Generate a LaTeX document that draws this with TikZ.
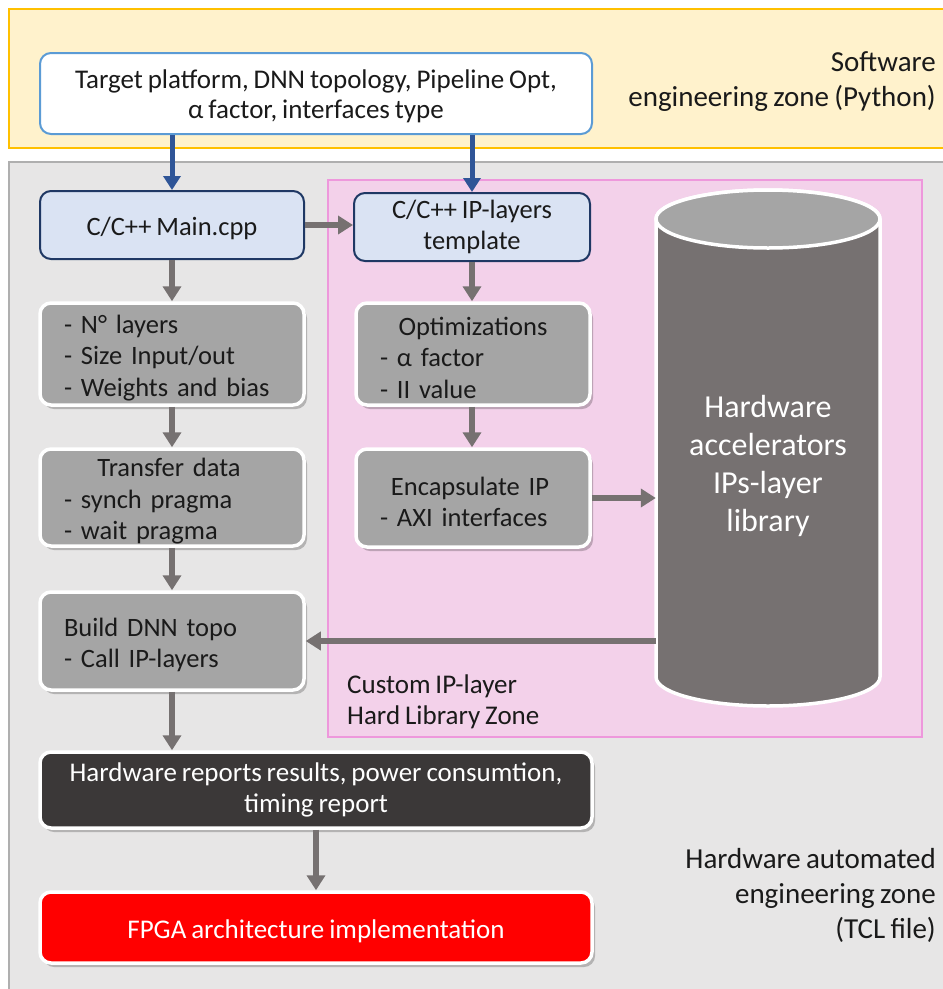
\documentclass[tikz,border=0pt]{standalone}
\usepackage{fontspec}
\setmainfont[WordSpace=0.8]{Carlito}
\usetikzlibrary{shadows,arrows.meta}
\definecolor{swfill}{HTML}{FFF2CC}
\definecolor{swline}{HTML}{FFC000}
\definecolor{hwfill}{HTML}{E7E6E6}
\definecolor{hwline}{HTML}{AFAFAF}
\definecolor{pkfill}{HTML}{F3D1EA}
\definecolor{pkline}{HTML}{EE98DC}
\definecolor{topline}{HTML}{5B9BD5}
\definecolor{cfill}{HTML}{DAE3F3}
\definecolor{cline}{HTML}{1F3864}
\definecolor{gbox}{HTML}{A5A5A5}
\definecolor{darkbox}{HTML}{3B3838}
\definecolor{arrgrey}{HTML}{767171}
\definecolor{arrblue}{HTML}{2F5597}
\definecolor{txt}{HTML}{1A1A1A}
\begin{document}
\begin{tikzpicture}[x=1pt,y=-1pt,
  basebox/.style={rounded corners=11pt, inner sep=0pt, font=\fontsize{26.5}{31.5}\selectfont, text=txt,
     execute at begin node=\rule{0pt}{26pt}},
  topbox/.style={basebox, draw=topline, fill=white, line width=2pt, align=center},
  cbox/.style={basebox, draw=cline, fill=cfill, line width=2pt, align=center},
  gbox/.style={basebox, draw=white, fill=gbox, line width=3.5pt,
     drop shadow={shadow xshift=3pt, shadow yshift=-4pt, opacity=0.22, fill=black}},
  dbox/.style={basebox, draw=white, fill=darkbox, text=white, line width=3.5pt, align=center,
     font=\fontsize{27}{31}\selectfont,
     drop shadow={shadow xshift=3pt, shadow yshift=-4pt, opacity=0.22, fill=black}},
  rbox/.style={dbox, fill=red},
  garr/.style={draw=arrgrey, line width=6pt, -{Triangle[length=15pt,width=18pt]}},
  barr/.style={draw=arrblue, line width=5pt, -{Triangle[length=14pt,width=17pt]}},
  zonelbl/.style={font=\fontsize{29}{35}\selectfont, text=txt, align=right, inner sep=0pt},
]
\useasboundingbox (0,0) rectangle (943,989);
\fill[white] (0,0) rectangle (943,989);
% zones
\draw[fill=swfill, draw=swline, line width=1.5pt] (9,9) rectangle (960,148);
\draw[fill=hwfill, draw=hwline, line width=1.5pt] (9,162) rectangle (960,1000);
\draw[fill=pkfill, draw=pkline, line width=1.5pt] (328,180) rectangle (922,737);

% zone labels
\node[zonelbl, anchor=east] (swlbl) at (936,82) {Software\\engineering zone (Python)};
\node[zonelbl, anchor=east] (hwlbl) at (936,895) {Hardware automated\\engineering zone\\(TCL file)};
\node[font=\fontsize{27}{31}\selectfont, text=txt, align=left, inner sep=0pt, anchor=west] (pklbl) at (347,702) {Custom IP-layer\\Hard Library Zone};

% cylinder
\fill[arrgrey, draw=white, line width=3.5pt] (656,219) -- (656,677)
   arc[start angle=180, end angle=0, x radius=112, y radius=29] -- (880,219)
   arc[start angle=0, end angle=-180, x radius=112, y radius=29] -- cycle;
\filldraw[fill=gbox, draw=white, line width=3.5pt] (768,219) ellipse [x radius=112, y radius=29];
\node[minimum width=224pt, minimum height=516pt, inner sep=0pt] (cyl) at (768,448) {};
\node[font=\fontsize{32}{38}\selectfont, text=white, align=center, inner sep=0pt] (cyllbl) at (768,466) {Hardware\\accelerators\\IPs-layer\\library};

% nodes
\node[topbox, minimum width=552pt, minimum height=81pt, font=\fontsize{27}{30}\selectfont] (top) at (316,93.5) {\raisebox{-2pt}{\parbox{540pt}{\centering\rule{0pt}{24pt}Target platform, DNN topology, Pipeline Opt,\\α factor, interfaces type}}};
\node[cbox, minimum width=264pt, minimum height=68pt] (main) at (172,225) {C/C++ Main.cpp};
\node[cbox, minimum width=236pt, minimum height=68pt] (tmpl) at (472,227) {C/C++ IP-layers\\template};

\node[gbox, minimum width=264pt, minimum height=102pt, text width=216pt, align=left] (nlay) at (172,354)
  {- N° layers\\- Size Input/out\\- Weights and bias};
\node[gbox, minimum width=234pt, minimum height=102pt, text width=186pt, align=left] (opt) at (473,354)
  {\makebox[186pt][c]{Optimizations}\\- α factor\\- II value};
\node[gbox, minimum width=264pt, minimum height=97pt, text width=216pt, align=left] (trans) at (172,497.5)
  {\makebox[210pt][c]{Transfer data}\\- synch pragma\\- wait pragma};
\node[gbox, minimum width=234pt, minimum height=98pt, text width=186pt, align=left] (enc) at (473,498)
  {\makebox[180pt][c]{Encapsulate IP}\\- AXI interfaces};
\node[gbox, minimum width=264pt, minimum height=98pt, text width=216pt, align=left] (build) at (172,641)
  {Build DNN topo\\- Call IP-layers};
\node[dbox, minimum width=552pt, minimum height=76pt] (rep) at (316,790)
  {Hardware reports results, power consumtion,\\timing report};
\node[rbox, minimum width=552pt, minimum height=71pt] (fpga) at (316,927.5)
  {FPGA architecture implementation};

% arrows
\draw[barr] (main.north |- top.south) -- (main.north);
\draw[barr] (tmpl.north |- top.south) -- (tmpl.north);
\draw[garr] (main.east) -- (main.east -| tmpl.west);
\draw[garr] (main.south) -- (nlay.north);
\draw[garr] (tmpl.south) -- (tmpl.south |- opt.north);
\draw[garr] (nlay.south) -- (trans.north);
\draw[garr] (opt.south -| tmpl.south) -- (tmpl.south |- enc.north);
\draw[garr] (trans.south) -- (build.north);
\draw[garr] (enc.east) -- (enc.east -| cyl.west);
\draw[garr] (cyl.west |- build.east) -- (build.east);
\draw[garr] (build.south) -- (build.south |- rep.north);
\draw[garr] (rep.south) -- (fpga.north);
\end{tikzpicture}
\end{document}
